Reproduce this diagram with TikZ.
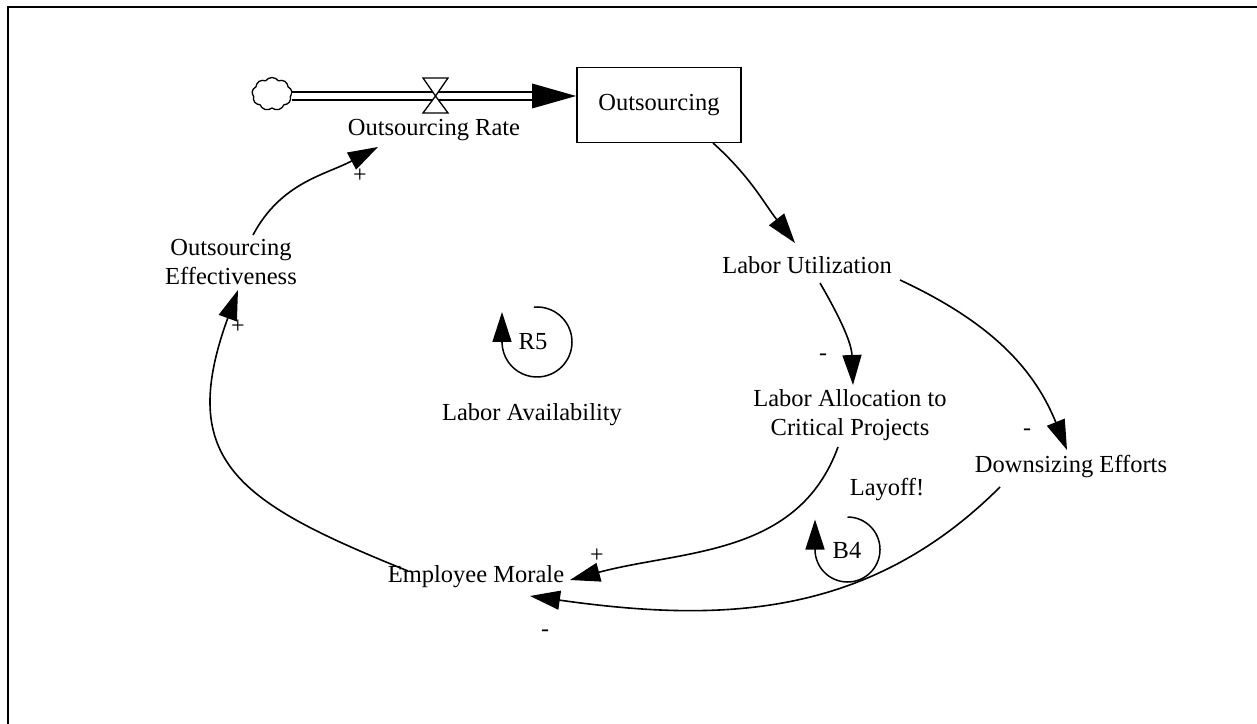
\documentclass[tikz,border=0pt]{standalone}
\usepackage{fontspec}
\setmainfont{Liberation Serif}
\usetikzlibrary{arrows.meta,shapes.symbols,calc}
\begin{document}
\begin{tikzpicture}[x=1pt,y=1pt,
  lbl/.style={font=\fontsize{24.5}{29.5}\selectfont, align=center, inner sep=0pt},
  pol/.style={font=\fontsize{24}{24}\selectfont, inner sep=0pt},
  link/.style={line width=1.6pt, -{Triangle[length=30pt,width=19pt]}},
  loopline/.style={line width=1.5pt},
  pipe/.style={line width=1.4pt, double distance=6.6pt},
  valvepart/.style={line width=1.3pt, fill=white, line join=miter},
]
\useasboundingbox (0,0) rectangle (1257,723);
% frame (only its top and left edges fall inside the page)
\draw[line width=2.7pt] (8,716) rectangle (1320,-40);

% stock and flow
\node[draw, cloud, cloud puffs=9, cloud puff arc=110, aspect=1.25, minimum width=40pt, minimum height=33pt,
      line width=1.3pt, inner sep=0pt] (src) at (272,629) {};
\node[draw, line width=1.8pt, minimum width=164pt, minimum height=75pt, lbl] (stock) at (659,618) {Outsourcing};
\coordinate (valve) at (435.5,627);
\draw[pipe] (src.east |- valve) -- ($(stock.west |- valve)+(-42,0)$);
\fill ($(stock.west |- valve)+(-44,12.5)$) -- (stock.west |- valve) -- ($(stock.west |- valve)+(-44,-12.5)$) -- cycle;
\draw[valvepart] (valve) -- ++(-12.5,18) -- ++(25,0) -- cycle;
\draw[valvepart] (valve) -- ++(-12.5,-17) -- ++(25,0) -- cycle;
\node[lbl] (rate) at (434,593) {Outsourcing Rate};

% variables
\node[lbl] (eff) at (231,461) {Outsourcing\\Effectiveness};
\node[lbl] (lu) at (807,458) {Labor Utilization};
\node[lbl] (lac) at (850,308) {Labor Allocation to\\Critical Projects};
\node[lbl] (de) at (1071,256) {Downsizing Efforts};
\node[lbl] (em) at (476,146) {Employee Morale};
\node[lbl] (la) at (532,308) {Labor Availability};
\node[lbl] (layoff) at (887,233) {Layoff!};

% causal links
\draw[link] ($(stock)+(54,-38)$) to[out=-42,in=128] ($(lu)+(-12,22)$);
\draw[link] ($(lu)+(13,-18)$) to[out=-60,in=92] ($(lac)+(3,30)$);
\draw[link] ($(lu)+(93,-15)$) to[out=-25,in=112] ($(de)+(-4,17)$);
\draw[link] ($(lac)+(-12,-32)$) to[out=-110,in=15] ($(em)+(94,-3)$);
\draw[link] ($(de)+(-71,-20)$) to[out=-135,in=-8] ($(em)+(54,-19)$);
\draw[link] ($(em)+(-68,6)$) to[out=158,in=-110,looseness=1.42] ($(eff)+(7,-28)$);
\draw[link] ($(eff)+(22,27)$) to[out=62,in=-152] ($(rate)+(-56,-17)$);

% polarities
\node[pol] (p1) at (360,547) {+};
\node[pol] (p2) at (238,396) {+};
\node[pol] (p3) at (784,487) {-};
\node[pol] (p4) at (823,366) {-};
\node[pol] (p5) at (1027,291) {-};
\node[pol] (p6) at (597,167) {+};
\node[pol] (p7) at (545,90) {-};

% loop markers
\coordinate (r5c) at (537,381);
\draw[loopline] ($(r5c)+(95:35)$) arc[start angle=95, end angle=-180, radius=35];
\draw[link] ($(r5c)+(-35,0)$) -- ++(0,30);
\node[lbl] (r5) at (533,381) {R5};

\coordinate (b4c) at (847.5,173.5);
\draw[loopline] ($(b4c)+(90:32.5)$) arc[start angle=90, end angle=-180, radius=32.5];
\draw[link] ($(b4c)+(-32.5,0)$) -- ++(0,30);
\node[lbl] (b4) at (847,173) {B4};
\end{tikzpicture}
\end{document}
